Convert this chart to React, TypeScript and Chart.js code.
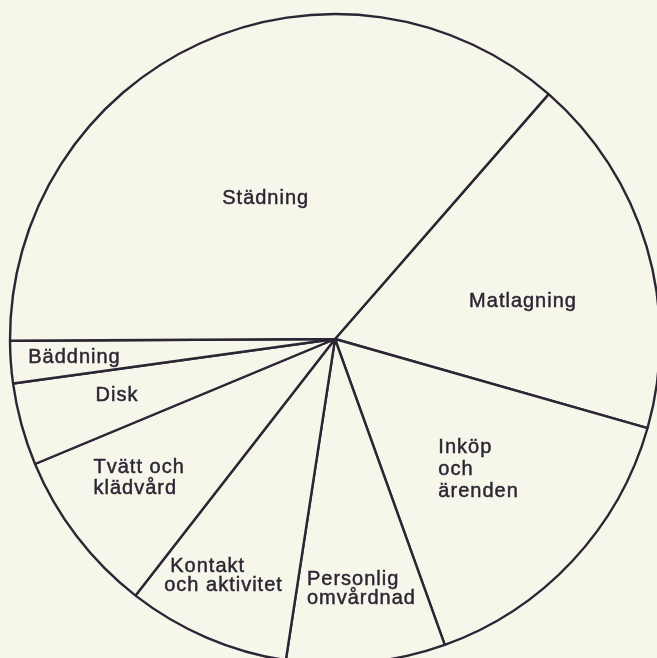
import React, { useEffect, useRef } from "react";
import { Chart, registerables } from "chart.js";

Chart.register(...registerables);

// Slices in drawing order, clockwise from the start rotation
const categories = [
  "Matlagning",
  "Inköp och ärenden",
  "Personlig omvårdnad",
  "Kontakt och aktivitet",
  "Tvätt och klädvård",
  "Disk",
  "Bäddning",
  "Städning",
];
const shares = [18.0, 15.1, 7.9, 8.1, 8.2, 4.1, 2.1, 36.5];
const labelLines = [
  ["Matlagning"],
  ["Inköp", "och", "ärenden"],
  ["Personlig", "omvårdnad"],
  ["Kontakt", "och aktivitet"],
  ["Tvätt och", "klädvård"],
  ["Disk"],
  ["Bäddning"],
  ["Städning"],
];
// label placement inside each slice: fraction along slice angle, fraction of radius
const labelAngleFrac = [0.604, 0.586, 0.923, 0.911, 0.782, 0.463, 0.44, 0.48];
const labelRadiusFrac = [0.587, 0.473, 0.762, 0.878, 0.85, 0.697, 0.947, 0.466];
const labelAlign = ["center", "left", "left", "left", "left", "center", "left", "center"];
const labelLineHeight = [21, 22, 18.5, 19, 21, 21, 21, 21];
const labelIndent = [[0], [0, 0, 0], [0, 0], [0, -6], [0, 0], [0], [0], [0]];

const BG = "#f7f6eb";
const INK = "#2b2633";

const labelPlugin = {
  id: "sliceLabels",
  afterDatasetsDraw(chart: any) {
    const ctx = chart.ctx;
    const meta = chart.getDatasetMeta(0);
    ctx.save();
    ctx.fillStyle = INK;
    ctx.strokeStyle = INK;
    ctx.lineWidth = 0.45;
    ctx.font = '20px "Liberation Sans", Arial, sans-serif';
    try {
      (ctx as any).letterSpacing = "1px";
    } catch (e) {}
    ctx.textBaseline = "alphabetic";
    meta.data.forEach((arc: any, i: number) => {
      const p = arc.getProps(["x", "y", "startAngle", "endAngle", "outerRadius"], true);
      const a = p.startAngle + labelAngleFrac[i] * (p.endAngle - p.startAngle);
      const r = labelRadiusFrac[i] * p.outerRadius;
      const px = p.x + r * Math.cos(a);
      const py = p.y + r * Math.sin(a);
      ctx.textAlign = labelAlign[i] as CanvasTextAlign;
      labelLines[i].forEach((line, j) => {
        const lx = px + (labelIndent[i][j] || 0);
        const ly = py + j * labelLineHeight[i];
        ctx.fillText(line, lx, ly);
        ctx.strokeText(line, lx, ly);
      });
    });
    ctx.restore();
  },
};

export default function App() {
  const ref = useRef<HTMLCanvasElement | null>(null);
  useEffect(() => {
    if (!ref.current) return;
    const chart = new Chart(ref.current, {
      type: "pie",
      data: {
        labels: categories,
        datasets: [
          {
            data: shares,
            backgroundColor: BG,
            borderColor: INK,
            borderWidth: 2.4,
            hoverOffset: 0,
          },
        ],
      },
      options: {
        responsive: false,
        animation: false,
        rotation: 41.1,
        radius: 325,
        layout: { padding: 0 },
        events: [],
        plugins: {
          legend: { display: false },
          tooltip: { enabled: false },
          title: { display: false },
        },
      },
      plugins: [labelPlugin],
    });
    return () => chart.destroy();
  }, []);
  return (
    <div
      style={{
        position: "fixed",
        left: 0,
        top: 0,
        width: 657,
        height: 658,
        overflow: "hidden",
        background: BG,
      }}
    >
      <canvas ref={ref} width={670} height={678} style={{ display: "block" }} />
    </div>
  );
}
